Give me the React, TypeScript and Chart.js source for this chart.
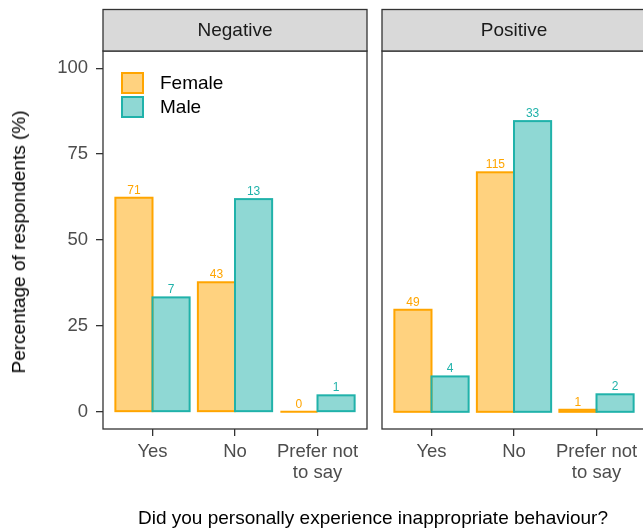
import React, { useEffect, useRef } from "react";
import { Chart, registerables } from "chart.js";
Chart.register(...registerables);

// ---- data ----
const categories = ["Yes", "No", "Prefer not to say"];
const tickLabels = [["Yes"], ["No"], ["Prefer not", "to say"]];
const panelTitles = ["Negative", "Positive"];
const seriesNames = ["Female", "Male"];
const yTicks = [0, 25, 50, 75, 100];

// percentage of respondents
const negFemalePct = [62.3, 37.7, 0];
const negMalePct = [33.3, 61.9, 4.8];
const posFemalePct = [29.7, 69.7, 0.6];
const posMalePct = [10.3, 84.6, 5.1];

// counts shown above bars
const negFemaleN = [71, 43, 0];
const negMaleN = [7, 13, 1];
const posFemaleN = [49, 115, 1];
const posMaleN = [4, 33, 2];

const xTitle = "Did you personally experience inappropriate behaviour?";
const yTitle = "Percentage of respondents (%)";

// ---- styles ----
const FONT = '"Liberation Sans", Arial, sans-serif';
const FEMALE_LINE = "#FFA500";
const FEMALE_FILL = "rgba(255,165,0,0.5)";
const MALE_LINE = "#20B2AA";
const MALE_FILL = "rgba(32,178,170,0.5)";
const DARK = "#333333";

const decoPlugin = {
  id: "panelDeco",
  afterDatasetsDraw(chart: any) {
    const ctx = chart.ctx;
    chart.data.datasets.forEach((ds: any, di: number) => {
      const meta = chart.getDatasetMeta(di);
      meta.data.forEach((bar: any, i: number) => {
        const p = bar.getProps(["x", "y", "base", "width"], true);
        const top = Math.min(p.y, p.base);
        const h = Math.abs(p.base - p.y);
        ctx.save();
        ctx.strokeStyle = ds.lineColor;
        ctx.lineWidth = 2;
        ctx.strokeRect(p.x - p.width / 2, top, p.width, h);
        ctx.fillStyle = ds.lineColor;
        ctx.font = `12px ${FONT}`;
        ctx.textAlign = "center";
        ctx.textBaseline = "alphabetic";
        ctx.fillText(String(ds.counts[i]), p.x, top - 4);
        ctx.restore();
      });
    });
  },
  afterDraw(chart: any) {
    const ctx = chart.ctx;
    const ca = chart.chartArea;
    const o = chart.options.plugins.panelDeco;
    ctx.save();
    ctx.strokeStyle = DARK;
    ctx.lineWidth = 1.3;
    ctx.strokeRect(ca.left, ca.top, ca.right - ca.left, ca.bottom - ca.top);
    const stripTop = 9.5;
    ctx.fillStyle = "#D9D9D9";
    ctx.fillRect(ca.left, stripTop, ca.right - ca.left, ca.top - stripTop);
    ctx.strokeRect(ca.left, stripTop, ca.right - ca.left, ca.top - stripTop);
    ctx.fillStyle = "#1A1A1A";
    ctx.font = `19px ${FONT}`;
    ctx.textAlign = "center";
    ctx.textBaseline = "middle";
    ctx.fillText(o.title, (ca.left + ca.right) / 2, (stripTop + ca.top) / 2 + 1);
    if (o.legend) {
      const items = [
        { name: seriesNames[0], fill: FEMALE_FILL, line: FEMALE_LINE },
        { name: seriesNames[1], fill: MALE_FILL, line: MALE_LINE },
      ];
      items.forEach((it, k) => {
        const x = ca.left + 19;
        const y = ca.top + 22 + k * 24;
        ctx.fillStyle = "#FFFFFF";
        ctx.fillRect(x, y, 21, 20);
        ctx.fillStyle = it.fill;
        ctx.fillRect(x, y, 21, 20);
        ctx.strokeStyle = it.line;
        ctx.lineWidth = 2;
        ctx.strokeRect(x, y, 21, 20);
        ctx.fillStyle = "#000000";
        ctx.font = `19px ${FONT}`;
        ctx.textAlign = "left";
        ctx.textBaseline = "middle";
        ctx.fillText(it.name, ca.left + 57, y + 11);
      });
    }
    ctx.restore();
  },
};

type PanelProps = {
  title: string;
  female: number[];
  male: number[];
  femaleN: number[];
  maleN: number[];
  showY: boolean;
  legend: boolean;
  left: number;
  width: number;
  padLeft: number;
  padRight: number;
};

function Panel(props: PanelProps) {
  const ref = useRef<HTMLCanvasElement | null>(null);
  useEffect(() => {
    if (!ref.current) return;
    const mk = (vals: number[]) => vals.map((v, i) => ({ x: i + 1, y: v }));
    const chart = new Chart(ref.current, {
      type: "bar",
      data: {
        datasets: [
          {
            label: seriesNames[0],
            data: mk(props.female),
            backgroundColor: FEMALE_FILL,
            borderWidth: 0,
            lineColor: FEMALE_LINE,
            counts: props.femaleN,
          } as any,
          {
            label: seriesNames[1],
            data: mk(props.male),
            backgroundColor: MALE_FILL,
            borderWidth: 0,
            lineColor: MALE_LINE,
            counts: props.maleN,
          } as any,
        ],
      },
      options: {
        responsive: false,
        animation: false,
        devicePixelRatio: 1,
        categoryPercentage: 0.9,
        barPercentage: 1.0,
        layout: { padding: { left: props.padLeft, right: props.padRight, top: 51, bottom: 0 } },
        plugins: {
          legend: { display: false },
          tooltip: { enabled: false },
          panelDeco: { title: props.title, legend: props.legend },
        } as any,
        scales: {
          x: {
            type: "linear",
            min: 0.4,
            max: 3.6,
            offset: false,
            afterBuildTicks: (s: any) => {
              s.ticks = categories.map((_, i) => ({ value: i + 1 }));
            },
            afterFit: (s: any) => {
              s.height = 102;
            },
            ticks: {
              callback: (v: any) => tickLabels[Math.round(Number(v)) - 1] || "",
              color: "#4D4D4D",
              font: { family: FONT, size: 18.5, lineHeight: 1.15 },
              padding: 5,
              maxRotation: 0,
              autoSkip: false,
            },
            grid: {
              display: true,
              offset: false,
              drawOnChartArea: false,
              drawTicks: true,
              tickLength: 7,
              color: DARK,
              lineWidth: 1.3,
            },
            border: { display: false },
          },
          y: {
            display: props.showY ? true : false,
            min: -5,
            max: 105,
            afterBuildTicks: (s: any) => {
              s.ticks = yTicks.map((v) => ({ value: v }));
            },
            afterFit: (s: any) => {
              s.width = props.showY ? 103 : 0;
            },
            ticks: {
              color: "#4D4D4D",
              font: { family: FONT, size: 18.5 },
              padding: 8,
            },
            grid: { display: true, drawOnChartArea: false, drawTicks: true, tickLength: 7, color: DARK, lineWidth: 1.3 },
            border: { display: false },
          },
        },
      } as any,
      plugins: [decoPlugin],
    });
    return () => chart.destroy();
  }, []);
  return (
    <canvas
      ref={ref}
      width={props.width}
      height={531}
      style={{ position: "absolute", left: props.left, top: 0, width: props.width, height: 531 }}
    />
  );
}

export default function App() {
  return (
    <div
      style={{
        position: "fixed",
        left: 0,
        top: 0,
        width: 643,
        height: 531,
        overflow: "hidden",
        background: "#FFFFFF",
        fontFamily: FONT,
      }}
    >
      <Panel
        title={panelTitles[0]}
        female={negFemalePct}
        male={negMalePct}
        femaleN={negFemaleN}
        maleN={negMaleN}
        showY={true}
        legend={true}
        left={0}
        width={375}
        padLeft={0}
        padRight={8}
      />
      <Panel
        title={panelTitles[1]}
        female={posFemalePct}
        male={posMalePct}
        femaleN={posFemaleN}
        maleN={posMaleN}
        showY={false}
        legend={false}
        left={375}
        width={280}
        padLeft={7}
        padRight={9}
      />
      <div
        style={{
          position: "absolute",
          left: 19,
          top: 242,
          transform: "translate(-50%, -50%) rotate(-90deg)",
          whiteSpace: "nowrap",
          fontSize: 19,
          color: "#000000",
        }}
      >
        {yTitle}
      </div>
      <div
        style={{
          position: "absolute",
          left: 373,
          top: 518,
          transform: "translate(-50%, -50%)",
          whiteSpace: "nowrap",
          fontSize: 19,
          color: "#000000",
        }}
      >
        {xTitle}
      </div>
    </div>
  );
}
